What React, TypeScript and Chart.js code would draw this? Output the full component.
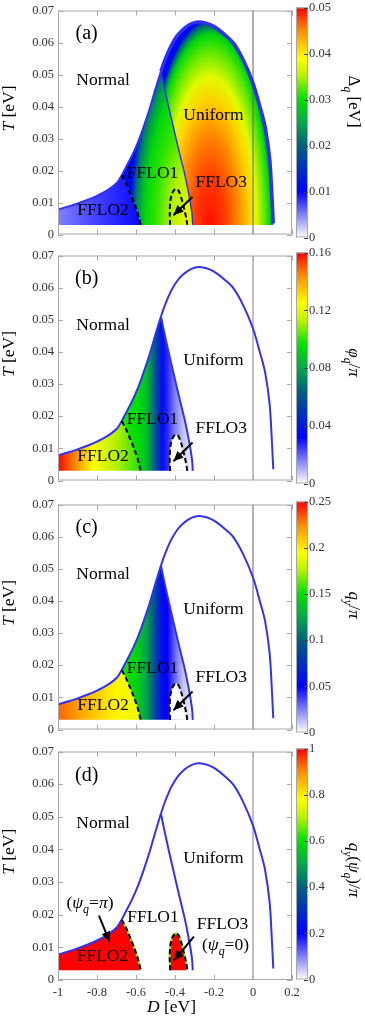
import React, { useEffect, useRef } from 'react';
import { Chart, registerables } from 'chart.js';

Chart.register(...registerables);

const SERIF = '"Liberation Serif", "Times New Roman", Times, serif';

// ---------- colour map shared by the four colour bars (position 0..1 -> colour)
const cmapPos = [0, 0.2, 0.4, 0.5, 0.6, 0.7, 0.78, 0.9, 1];
const cmapCol = ['#ffffff', '#0000ff', '#00607a', '#00a84a', '#00e000', '#b4f000', '#ffff00', '#ff8c00', '#ff0000'];

// ---------- axes
const xTicks = [-1, -0.8, -0.6, -0.4, -0.2, 0, 0.2];
const xTickLabels = ['-1', '-0.8', '-0.6', '-0.4', '-0.2', '0', '0.2'];
const yTicks = [0, 0.01, 0.02, 0.03, 0.04, 0.05, 0.06, 0.07];
const yTickLabels = ['0', '0.01', '0.02', '0.03', '0.04', '0.05', '0.06', '0.07'];

// ---------- colour bar ticks
const cbTicksA = [0, 0.01, 0.02, 0.03, 0.04, 0.05];
const cbLabelsA = ['0', '0.01', '0.02', '0.03', '0.04', '0.05'];
const cbTicksB = [0, 0.04, 0.08, 0.12, 0.16];
const cbLabelsB = ['0', '0.04', '0.08', '0.12', '0.16'];
const cbTicksC = [0, 0.05, 0.1, 0.15, 0.2, 0.25];
const cbLabelsC = ['0', '0.05', '0.1', '0.15', '0.2', '0.25'];
const cbTicksD = [0, 0.2, 0.4, 0.6, 0.8, 1];
const cbLabelsD = ['0', '0.2', '0.4', '0.6', '0.8', '1'];

// ---------- phase boundaries (D [eV], T [eV])
const tMin = 0.003;
const leftLowD = [-1, -0.95, -0.9, -0.85, -0.8, -0.75, -0.7, -0.673];
const leftLowT = [0.0078, 0.0087, 0.0097, 0.0108, 0.0121, 0.0137, 0.016, 0.0185];
const leftHighD = [-0.673, -0.65, -0.62, -0.59, -0.56, -0.53, -0.5, -0.472];
const leftHighT = [0.0185, 0.0212, 0.0247, 0.0288, 0.0338, 0.0393, 0.0455, 0.051];
const domeD = [-0.472, -0.455, -0.44, -0.42, -0.39, -0.36, -0.33, -0.3, -0.277, -0.25, -0.22, -0.19, -0.15, -0.1, -0.05, 0, 0.035, 0.062, 0.0855, 0.0957, 0.104];
const domeT = [0.051, 0.054, 0.0563, 0.059, 0.062, 0.064, 0.0654, 0.0662, 0.0664, 0.0662, 0.0656, 0.0646, 0.0627, 0.0598, 0.0545, 0.0473, 0.04, 0.0337, 0.0236, 0.0136, 0.0035];
const uniLineD = [-0.472, -0.455, -0.435, -0.41, -0.39, -0.37, -0.35, -0.333, -0.32, -0.312, -0.309];
const uniLineT = [0.051, 0.046, 0.0405, 0.034, 0.0288, 0.0238, 0.0188, 0.0138, 0.0095, 0.006, 0.003];
const dashD = [-0.673, -0.65, -0.631, -0.61, -0.593, -0.583, -0.576];
const dashT = [0.0185, 0.0158, 0.0131, 0.01, 0.007, 0.0048, 0.003];
const f3D = [-0.425, -0.427, -0.424, -0.415, -0.403, -0.392, -0.38, -0.366, -0.357, -0.349, -0.342, -0.337];
const f3T = [0.003, 0.007, 0.0105, 0.0128, 0.014, 0.0143, 0.0135, 0.0111, 0.009, 0.007, 0.005, 0.003];

// ---------- colour fields
// (a) Δq: FFLO2 horizontal profile, FFLO1 and Uniform elliptical profiles
const aF2D = [-1, -0.8, -0.6];
const aF2V = [0.1, 0.15, 0.19];
const aF1Centre = [-0.33, 0.003];
const aF1Radii = [0.3, 0.058];
const aF1R = [0, 0.3, 0.55, 0.75, 0.9, 1];
const aF1V = [0.76, 0.7, 0.63, 0.58, 0.45, 0.22];
const aUCentre = [-0.22, 0.003];
const aURadii = [0.33, 0.064];
const aUR = [0, 0.22, 0.45, 0.6, 0.72, 0.85, 0.93, 0.98, 1];
const aUV = [0.99, 0.96, 0.9, 0.83, 0.75, 0.65, 0.58, 0.4, 0.22];
// (b) φq/π
const bF2D = [-1, -0.93, -0.82, -0.7, -0.58];
const bF2V = [1, 0.92, 0.78, 0.7, 0.62];
const bF1D = [-0.673, -0.6, -0.55, -0.52, -0.49, -0.465, -0.44, -0.4, -0.36, -0.31];
const bF1V = [0.62, 0.6, 0.55, 0.45, 0.32, 0.22, 0.17, 0.1, 0.05, 0];
// (c) qy/π
const cF2D = [-1, -0.9, -0.8, -0.7, -0.58];
const cF2V = [0.93, 0.88, 0.83, 0.79, 0.76];
const cF1D = [-0.673, -0.6, -0.55, -0.52, -0.49, -0.465, -0.44, -0.4, -0.36, -0.31];
const cF1V = [0.62, 0.58, 0.5, 0.42, 0.3, 0.22, 0.2, 0.12, 0.05, 0];

// ---------- text labels
const labelNames = ['Normal', 'Uniform', 'FFLO1', 'FFLO2', 'FFLO3'];
const labelD = [-0.769, -0.203, -0.515, -0.769, -0.163];
const labelT = [0.0467, 0.0358, 0.0176, 0.006, 0.0148];
const labelDd = [-0.769, -0.203, -0.513, -0.772, -0.156];
const labelTd = [0.0467, 0.0358, 0.0178, 0.0057, 0.0156];
const letterD = -0.853;
const letterT = 0.061;
const psiD = [-0.836, -0.141];
const psiT = [0.0221, 0.0093];

// ---------- arrows [tailD, tailT, headD, headT]
const arrowF3 = [-0.31, 0.0118, -0.408, 0.006];
const arrowF3d = [-0.303, 0.0133, -0.405, 0.006];
const arrowPsi = [-0.79, 0.0197, -0.735, 0.0117];

const pts = (ds: number[], ts: number[]) => ds.map((d, i) => ({ x: d, y: ts[i] }));

const fflo2Poly = [{ x: -1, y: tMin }, ...pts(leftLowD, leftLowT), ...pts(dashD, dashT).slice(1)];
const fflo1Poly = [
  ...pts(leftHighD, leftHighT),
  ...pts(uniLineD, uniLineT).slice(1),
  ...pts(dashD, dashT).reverse().slice(0, -1),
];
const uniformPoly = [
  ...pts(domeD, domeT),
  { x: domeD[domeD.length - 1], y: tMin },
  ...pts(uniLineD, uniLineT).reverse().slice(0, -1),
];
const f3Poly = pts(f3D, f3T);

// ---------- helpers
function hex(c: string) {
  return [parseInt(c.slice(1, 3), 16), parseInt(c.slice(3, 5), 16), parseInt(c.slice(5, 7), 16)];
}
function cmap(v: number) {
  const t0 = Math.max(0, Math.min(1, v));
  for (let i = 0; i < cmapPos.length - 1; i++) {
    if (t0 <= cmapPos[i + 1]) {
      const f = (t0 - cmapPos[i]) / (cmapPos[i + 1] - cmapPos[i]);
      const a = hex(cmapCol[i]);
      const b = hex(cmapCol[i + 1]);
      const m = a.map((q, k) => Math.round(q + (b[k] - q) * f));
      return `rgb(${m[0]},${m[1]},${m[2]})`;
    }
  }
  return cmapCol[cmapCol.length - 1];
}
function hGrad(chart: any, ds: number[], vs: number[]) {
  const x = chart.scales.x;
  const p0 = x.getPixelForValue(ds[0]);
  const p1 = x.getPixelForValue(ds[ds.length - 1]);
  const g = chart.ctx.createLinearGradient(p0, 0, p1, 0);
  ds.forEach((d, i) => g.addColorStop((x.getPixelForValue(d) - p0) / (p1 - p0), cmap(vs[i])));
  return g;
}
function ellipseFill(chart: any, centre: number[], radii: number[], rs: number[], vs: number[]) {
  const x = chart.scales.x;
  const y = chart.scales.y;
  const px = x.getPixelForValue(centre[0]);
  const py = y.getPixelForValue(centre[1]);
  const ax = Math.abs(x.getPixelForValue(centre[0] + radii[0]) - px);
  const by = Math.abs(y.getPixelForValue(centre[1] + radii[1]) - py);
  const off = document.createElement('canvas');
  off.width = chart.canvas.width;
  off.height = chart.canvas.height;
  const c = off.getContext('2d')!;
  c.translate(px, py);
  c.scale(ax, by);
  const g = c.createRadialGradient(0, 0, 0, 0, 0, 1);
  rs.forEach((r, i) => g.addColorStop(r, cmap(vs[i])));
  c.fillStyle = g;
  c.fillRect(-30, -30, 60, 60);
  return chart.ctx.createPattern(off, 'no-repeat');
}

type Seg = { t: string; i?: boolean; s?: boolean };
function drawRich(ctx: CanvasRenderingContext2D, segs: Seg[], x: number, y: number, size: number, rot = 0, color = '#000') {
  ctx.save();
  ctx.translate(x, y);
  if (rot) ctx.rotate(rot);
  ctx.fillStyle = color;
  ctx.textBaseline = 'alphabetic';
  ctx.textAlign = 'left';
  const f = (sg: Seg) => `${sg.i ? 'italic ' : ''}${sg.s ? size * 0.68 : size}px ${SERIF}`;
  let w = 0;
  for (const sg of segs) {
    ctx.font = f(sg);
    w += ctx.measureText(sg.t).width;
  }
  let cx = -w / 2;
  for (const sg of segs) {
    ctx.font = f(sg);
    ctx.fillText(sg.t, cx, sg.s ? size * 0.28 : 0);
    cx += ctx.measureText(sg.t).width;
  }
  ctx.restore();
}

const panels = [
  {
    key: 'a', top: 7, bottom: 238, cbMax: 0.05, cbTicks: cbTicksA, cbLabels: cbLabelsA, cbTitleY: 101.5,
    cbTitle: [{ t: 'Δ' }, { t: 'q', i: true, s: true }, { t: ' [eV]' }] as Seg[],
  },
  {
    key: 'b', top: 252, bottom: 484, cbMax: 0.16, cbTicks: cbTicksB, cbLabels: cbLabelsB, cbTitleY: 362.5,
    cbTitle: [{ t: 'φ', i: true }, { t: 'q', i: true, s: true }, { t: '/' }, { t: 'π', i: true }] as Seg[],
  },
  {
    key: 'c', top: 501, bottom: 733, cbMax: 0.25, cbTicks: cbTicksC, cbLabels: cbLabelsC, cbTitleY: 605,
    cbTitle: [{ t: 'q', i: true }, { t: 'y', i: true, s: true }, { t: '/' }, { t: 'π', i: true }] as Seg[],
  },
  {
    key: 'd', top: 748, bottom: 980, cbMax: 1, cbTicks: cbTicksD, cbLabels: cbLabelsD, cbTitleY: 870,
    cbTitle: [
      { t: 'q', i: true }, { t: 'y', i: true, s: true }, { t: '(' }, { t: 'ψ', i: true },
      { t: 'q', i: true, s: true }, { t: ')/' }, { t: 'π', i: true },
    ] as Seg[],
  },
];

function buildDatasets(k: string) {
  const cache: Record<string, any> = {};
  const L: any[] = [];
  const base = {
    pointRadius: 0, pointHoverRadius: 0, pointBackgroundColor: 'rgba(0,0,0,0)',
    pointBorderColor: 'rgba(0,0,0,0)', fill: false, tension: 0,
  };
  const lazy = (name: string, make: (ch: any) => any) => (c: any) => {
    const ch = c.chart;
    if (!ch.chartArea) return 'rgba(0,0,0,0)';
    const key = name + ':' + ch.chartArea.bottom + ':' + ch.width;
    if (!cache[key]) cache[key] = make(ch);
    return cache[key];
  };
  const area = (data: any[], bg: any, order: number) =>
    L.push({ ...base, data, fill: 'shape', backgroundColor: bg, borderColor: 'rgba(0,0,0,0)', borderWidth: 0, order });
  const line = (data: any[], color: string, width: number, order: number, extra: any = {}) =>
    L.push({ ...base, data, borderColor: color, backgroundColor: 'rgba(0,0,0,0)', borderWidth: width, order, ...extra });

  if (k === 'a') {
    area(fflo2Poly, lazy('a2', (ch) => hGrad(ch, aF2D, aF2V)), 50);
    area(fflo1Poly, lazy('a1', (ch) => ellipseFill(ch, aF1Centre, aF1Radii, aF1R, aF1V)), 49);
    area(uniformPoly, lazy('au', (ch) => ellipseFill(ch, aUCentre, aURadii, aUR, aUV)), 48);
  } else if (k === 'b' || k === 'c') {
    const f2D = k === 'b' ? bF2D : cF2D;
    const f2V = k === 'b' ? bF2V : cF2V;
    const f1D = k === 'b' ? bF1D : cF1D;
    const f1V = k === 'b' ? bF1V : cF1V;
    area(fflo2Poly, lazy(k + '2', (ch) => hGrad(ch, f2D, f2V)), 50);
    area(fflo1Poly, lazy(k + '1', (ch) => hGrad(ch, f1D, f1V)), 49);
    area(f3Poly, '#ffffff', 47);
  } else {
    area(fflo2Poly, cmap(1), 50);
    area(f3Poly, cmap(1), 47);
  }

  const zc = k === 'c' ? '#b0b0b0' : k === 'a' ? '#606060' : '#808080';
  line([{ x: 0, y: 0 }, { x: 0, y: 0.07 }], zc, k === 'c' ? 2 : 1, 40);

  if (k === 'a') line(pts(domeD, domeT), '#2a2af2', 3.5, 30, { borderJoinStyle: 'round', tension: 0.3 });

  const blue = '#3232f0';
  line(pts(leftLowD, leftLowT), blue, 2, 20, { tension: 0.3 });
  line(pts(leftHighD, leftHighT), blue, 2, 20, { tension: 0.3 });
  line(pts(domeD, domeT), blue, 2, 20, { tension: 0.3 });
  line(pts(uniLineD, uniLineT), blue, k === 'a' ? 1.5 : 2, 20, { tension: 0.3 });

  if (k === 'd') {
    line(pts(dashD, dashT), '#8ade3a', 2, 12, { tension: 0.3 });
    line(f3Poly, '#8ade3a', 2, 12, { tension: 0.3 });
  }
  line(pts(dashD, dashT), '#000000', 2, 10, { borderDash: [5, 3], tension: 0.3 });
  line(f3Poly, '#000000', 2, 10, { borderDash: [5, 3], tension: 0.3 });

  const arrows = k === 'd' ? [arrowF3d, arrowPsi] : [arrowF3];
  for (const a of arrows) line([{ x: a[0], y: a[1] }, { x: a[2], y: a[3] }], '#000000', 2, 5);
  return L;
}

function mainConfig(spec: any) {
  const k = spec.key;
  const deco = {
    id: 'mainDeco',
    afterDatasetsDraw(chart: any) {
      const { ctx, chartArea: a } = chart;
      const x = chart.scales.x;
      const y = chart.scales.y;
      ctx.save();
      ctx.strokeStyle = '#a8a8a8';
      ctx.lineWidth = 1;
      ctx.strokeRect(a.left + 0.5, a.top + 0.5, a.right - a.left - 1, a.bottom - a.top - 1);
      ctx.beginPath();
      for (const v of xTicks) {
        const px = Math.round(x.getPixelForValue(v)) + 0.5;
        ctx.moveTo(px, a.bottom);
        ctx.lineTo(px, a.bottom - 5);
        ctx.moveTo(px, a.top);
        ctx.lineTo(px, a.top + 5);
      }
      for (const v of yTicks) {
        const py = Math.round(y.getPixelForValue(v)) + 0.5;
        ctx.moveTo(a.left, py);
        ctx.lineTo(a.left + 5, py);
        ctx.moveTo(a.right, py);
        ctx.lineTo(a.right - 5, py);
      }
      ctx.stroke();

      // arrow heads
      const arrows = k === 'd' ? [arrowF3d, arrowPsi] : [arrowF3];
      ctx.fillStyle = '#000';
      for (const ar of arrows) {
        const tx = x.getPixelForValue(ar[0]);
        const ty = y.getPixelForValue(ar[1]);
        const hx = x.getPixelForValue(ar[2]);
        const hy = y.getPixelForValue(ar[3]);
        const ang = Math.atan2(hy - ty, hx - tx);
        const len = 10;
        const hw = 4.5;
        const bx = hx - len * Math.cos(ang);
        const by = hy - len * Math.sin(ang);
        ctx.beginPath();
        ctx.moveTo(hx, hy);
        ctx.lineTo(bx + hw * Math.sin(ang), by - hw * Math.cos(ang));
        ctx.lineTo(bx - hw * Math.sin(ang), by + hw * Math.cos(ang));
        ctx.closePath();
        ctx.fill();
      }

      // labels
      const lD = k === 'd' ? labelDd : labelD;
      const lT = k === 'd' ? labelTd : labelT;
      labelNames.forEach((n, i) => {
        drawRich(ctx, [{ t: n }], x.getPixelForValue(lD[i]), y.getPixelForValue(lT[i]), 17.5);
      });
      drawRich(ctx, [{ t: `(${k})` }], x.getPixelForValue(letterD), y.getPixelForValue(letterT), 20);
      if (k === 'd') {
        drawRich(ctx, [{ t: '(' }, { t: 'ψ', i: true }, { t: 'q', i: true, s: true }, { t: '=' }, { t: 'π', i: true }, { t: ')' }],
          x.getPixelForValue(psiD[0]), y.getPixelForValue(psiT[0]), 17.5);
        drawRich(ctx, [{ t: '(' }, { t: 'ψ', i: true }, { t: 'q', i: true, s: true }, { t: '=0)' }],
          x.getPixelForValue(psiD[1]), y.getPixelForValue(psiT[1]), 17.5);
      }

      // axis titles
      drawRich(ctx, [{ t: 'T', i: true }, { t: ' [eV]' }], 14, (a.top + a.bottom) / 2 - 14, 17.5, -Math.PI / 2);
      if (k === 'd') {
        drawRich(ctx, [{ t: 'D', i: true }, { t: ' [eV]' }], (a.left + a.right) / 2 - 3.5, a.bottom + 32, 17.5);
      }
      ctx.restore();
    },
  };

  return {
    type: 'line',
    data: { datasets: buildDatasets(k) },
    plugins: [deco],
    options: {
      animation: false,
      responsive: true,
      maintainAspectRatio: false,
      events: [],
      layout: { padding: { left: 0, right: 13, top: 8, bottom: k === 'd' ? 20 : 8 } },
      plugins: { legend: { display: false }, tooltip: { enabled: false } },
      scales: {
        x: {
          type: 'linear',
          min: -1,
          max: 0.2,
          afterBuildTicks: (s: any) => { s.ticks = xTicks.map((v) => ({ value: v })); },
          afterFit: (s: any) => { s.height = k === 'd' ? 20 : 0; },
          grid: { display: false, drawTicks: false },
          border: { display: false },
          ticks: {
            display: k === 'd',
            autoSkip: false,
            maxRotation: 0,
            padding: 5,
            color: '#333',
            font: { family: SERIF, size: 12.5 },
            callback: (_v: any, i: number) => xTickLabels[i],
          },
        },
        y: {
          type: 'linear',
          min: 0,
          max: 0.07,
          afterBuildTicks: (s: any) => { s.ticks = yTicks.map((v) => ({ value: v })); },
          afterFit: (s: any) => { s.width = 58; },
          grid: { display: false, drawTicks: false },
          border: { display: false },
          ticks: {
            autoSkip: false,
            padding: 4,
            color: '#333',
            font: { family: SERIF, size: 12.5 },
            callback: (_v: any, i: number) => yTickLabels[i],
          },
        },
      },
    },
  };
}

function cbConfig(spec: any) {
  const deco = {
    id: 'cbDeco',
    afterDatasetsDraw(chart: any) {
      const { ctx, chartArea: a } = chart;
      const y = chart.scales.y;
      ctx.save();
      ctx.strokeStyle = '#a8a8a8';
      ctx.lineWidth = 1;
      ctx.strokeRect(a.left + 0.5, a.top + 0.5, a.right - a.left - 1, a.bottom - a.top - 1);
      ctx.strokeStyle = '#444';
      ctx.beginPath();
      for (const v of spec.cbTicks) {
        const py = Math.round(y.getPixelForValue(v)) + 0.5;
        ctx.moveTo(a.right, py);
        ctx.lineTo(a.right - 4, py);
      }
      ctx.stroke();
      drawRich(ctx, spec.cbTitle, 349 - 285, spec.cbTitleY - (spec.top - 8), 17, Math.PI / 2);
      ctx.restore();
    },
  };
  return {
    type: 'bar',
    data: {
      labels: [''],
      datasets: [
        {
          data: [[0, spec.cbMax]],
          barPercentage: 1,
          categoryPercentage: 1,
          borderWidth: 0,
          backgroundColor: (c: any) => {
            const ch = c.chart;
            const a = ch.chartArea;
            if (!a) return '#ffffff';
            const g = ch.ctx.createLinearGradient(0, a.bottom, 0, a.top);
            cmapPos.forEach((p, i) => g.addColorStop(p, cmapCol[i]));
            return g;
          },
        },
      ],
    },
    plugins: [deco],
    options: {
      animation: false,
      responsive: true,
      maintainAspectRatio: false,
      events: [],
      layout: { padding: { left: 11, right: 0, top: 8, bottom: 8 } },
      plugins: { legend: { display: false }, tooltip: { enabled: false } },
      scales: {
        x: { type: 'category', display: false },
        y: {
          position: 'right',
          min: 0,
          max: spec.cbMax,
          afterBuildTicks: (s: any) => { s.ticks = spec.cbTicks.map((v: number) => ({ value: v })); },
          afterFit: (s: any) => { s.width = 57; },
          grid: { display: false, drawTicks: false },
          border: { display: false },
          ticks: {
            autoSkip: false,
            padding: 1,
            color: '#333',
            font: { family: SERIF, size: 12.5 },
            callback: (_v: any, i: number) => spec.cbLabels[i],
          },
        },
      },
    },
  };
}

function Panel({ spec }: { spec: any }) {
  const mainRef = useRef<HTMLCanvasElement>(null);
  const cbRef = useRef<HTMLCanvasElement>(null);
  useEffect(() => {
    const m = new Chart(mainRef.current as any, mainConfig(spec) as any);
    const c = new Chart(cbRef.current as any, cbConfig(spec) as any);
    return () => {
      m.destroy();
      c.destroy();
    };
  }, [spec]);
  const top = spec.top - 8;
  const mainH = spec.key === 'd' ? 1020 - top : spec.bottom - spec.top + 16;
  return (
    <>
      <div style={{ position: 'absolute', left: 0, top, width: 305, height: mainH }}>
        <canvas ref={mainRef} />
      </div>
      <div style={{ position: 'absolute', left: 285, top, width: 80, height: spec.bottom - spec.top + 16 }}>
        <canvas ref={cbRef} />
      </div>
    </>
  );
}

export default function App() {
  return (
    <div style={{ position: 'absolute', left: 0, top: 0, width: 365, height: 1020, background: '#ffffff', overflow: 'hidden' }}>
      {panels.map((p) => (
        <Panel key={p.key} spec={p} />
      ))}
    </div>
  );
}
